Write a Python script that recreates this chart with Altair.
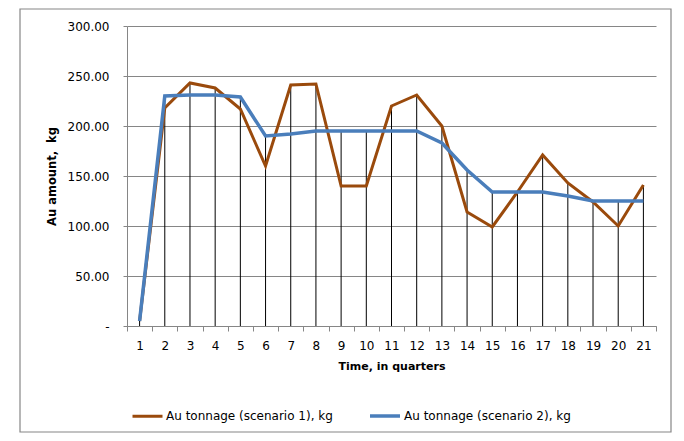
import altair as alt
import pandas as pd

quarters = list(range(1, 22))
scenario1 = [5, 218, 243, 238, 217, 160, 241, 242, 140, 140, 220, 231, 200, 114, 99, 134, 171, 143, 124, 100, 141]
scenario2 = [5, 230, 231, 231, 229, 190, 192, 195, 195, 195, 195, 195, 183, 156, 134, 134, 134, 130, 125, 125, 125]
series_names = ["Au tonnage (scenario 1), kg", "Au tonnage (scenario 2), kg"]
series_colors = ["#9A4A0C", "#4A7EBB"]
series_widths = [3, 3.5]
y_ticks = [0, 50, 100, 150, 200, 250, 300]

rows = []
for q, a, b in zip(quarters, scenario1, scenario2):
    rows.append({"q": q, "v": a, "s": series_names[0]})
    rows.append({"q": q, "v": b, "s": series_names[1]})
df = pd.DataFrame(rows)
drop = pd.DataFrame({"q": quarters, "top": [max(a, b) for a, b in zip(scenario1, scenario2)]})

FONT = "DejaVu Sans"
GRAY = "#868686"

xscale = alt.Scale(type="band", paddingInner=0, paddingOuter=0)
yscale = alt.Scale(domain=[0, 300], nice=False)

x_axis = alt.Axis(
    title="Time, in quarters", labelAngle=0, tickBand="extent", grid=False,
    domainColor=GRAY, tickColor=GRAY, tickSize=5, labelPadding=9,
    labelFont=FONT, labelFontSize=12, labelColor="#000000",
    titleFont=FONT, titleFontSize=11, titleFontWeight="bold", titleColor="#000000",
    titlePadding=9,
)
y_axis = alt.Axis(
    title="Au amount,\u00a0 kg", values=y_ticks,
    labelExpr="datum.value == 0 ? '-' : format(datum.value, '.2f')",
    grid=True, gridColor=GRAY, domainColor=GRAY, tickColor=GRAY, tickSize=4,
    labelPadding=14, labelFont=FONT, labelFontSize=12, labelColor="#000000",
    titleFont=FONT, titleFontSize=11.5, titleFontWeight="bold", titleColor="#000000",
    titlePadding=10,
)

frame = alt.Chart(pd.DataFrame({"k": [0]})).mark_rect(
    fill=None, stroke=GRAY, strokeWidth=1.2
).encode(
    x=alt.value(-107), x2=alt.value(544), y=alt.value(-17), y2=alt.value(406)
)

rules = alt.Chart(drop).mark_rule(color="#000000", strokeWidth=1).encode(
    x=alt.X("q:O", bandPosition=0.5, scale=xscale, axis=x_axis),
    y=alt.Y("top:Q", scale=yscale, axis=y_axis),
    y2=alt.datum(0),
)

lines = alt.Chart(df).mark_line(strokeJoin="miter").encode(
    x=alt.X("q:O", bandPosition=0.5, scale=xscale),
    y=alt.Y("v:Q", scale=yscale),
    color=alt.Color(
        "s:N",
        scale=alt.Scale(domain=series_names, range=series_colors),
        legend=alt.Legend(
            title=None, orient="none", legendX=4, legendY=373, direction="horizontal",
            symbolType="stroke", symbolSize=900, symbolStrokeWidth=4,
            labelFont=FONT, labelFontSize=12, labelColor="#000000", labelLimit=400,
            labelOffset=2, columnPadding=30,
        ),
    ),
    strokeWidth=alt.StrokeWidth(
        "s:N", scale=alt.Scale(domain=series_names, range=series_widths), legend=None
    ),
    order=alt.Order("q:Q"),
)

chart = alt.layer(frame, rules, lines).properties(
    width=529, height=300,
    autosize=alt.AutoSizeParams(type="none"),
    padding={"left": 119, "top": 18, "right": 20, "bottom": 107},
).configure_view(stroke=None)

chart.save("out.html", embed_options={"renderer": "svg", "actions": False})
